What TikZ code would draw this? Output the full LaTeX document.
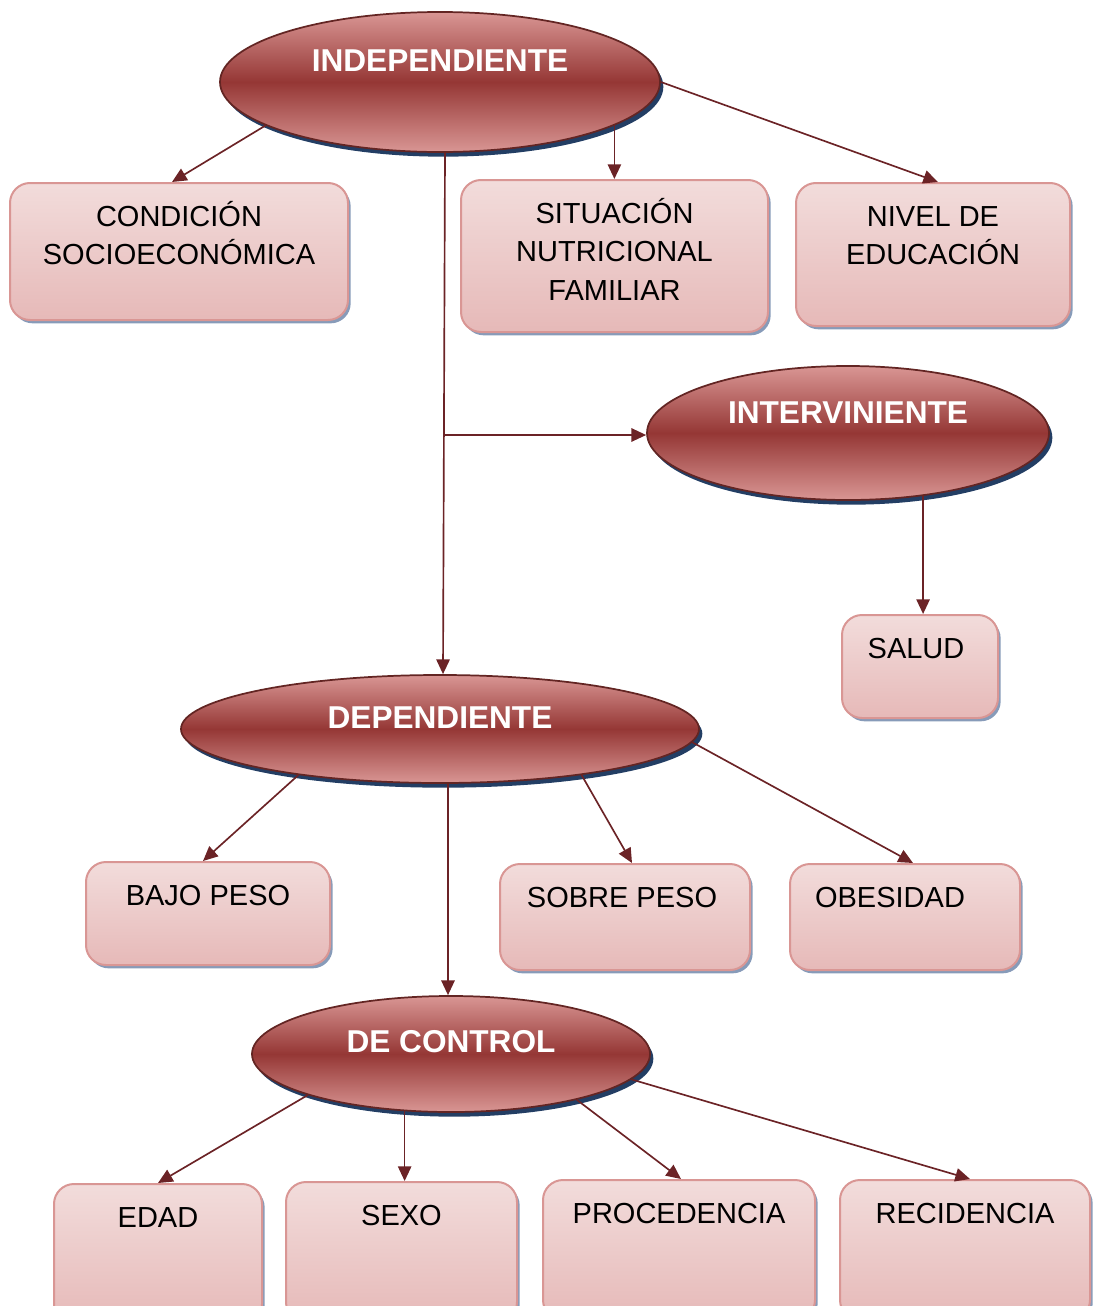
\documentclass[tikz,border=0pt]{standalone}
\usepackage{fontspec}
\setmainfont{Liberation Sans}
\usetikzlibrary{shapes.geometric,shadows,arrows.meta,calc}
\definecolor{elight}{RGB}{217,150,148}
\definecolor{edark}{RGB}{149,55,53}
\definecolor{eborder}{RGB}{99,37,35}
\definecolor{eshadow}{RGB}{35,62,100}
\definecolor{btop}{RGB}{242,220,219}
\definecolor{bbottom}{RGB}{230,185,184}
\definecolor{bborder}{RGB}{217,150,148}
\definecolor{bshadow}{RGB}{135,155,185}
\definecolor{arrowc}{RGB}{107,35,38}
\begin{document}
\begin{tikzpicture}[x=0.75pt,y=-0.75pt,
  ell/.style={ellipse, inner sep=0pt, draw=eborder, line width=1.3pt,
    top color=elight, bottom color=elight, middle color=edark,
    drop shadow={fill=eshadow, shadow xshift=2.5pt, shadow yshift=-3.5pt, opacity=1},
    text=white, font=\fontsize{23.7}{28}\selectfont\bfseries, text height=17pt},
  bx/.style={rectangle, rounded corners=15pt, draw=bborder, line width=1.5pt,
    top color=btop, bottom color=bbottom,
    drop shadow={fill=bshadow, shadow xshift=2pt, shadow yshift=-2.5pt, opacity=1}},
  btxt/.style={anchor=base, yshift=-33pt, align=center, inner sep=0pt,
    font=\fontsize{21.75}{28.9}\selectfont, text=black},
  arr/.style={draw=arrowc, line width=1.25pt, -{Triangle[length=11pt,width=10pt]}}
]
\useasboundingbox (0,0) rectangle (1093,1306);
\clip (0,0) rectangle (1093,1306);

% ellipses
\node[ell, minimum width=330pt, minimum height=105pt, text depth=33pt] (ind) at (440,82) {INDEPENDIENTE};
\node[ell, minimum width=301.5pt, minimum height=100.5pt, text depth=31.6pt] (int) at (848,433) {INTERVINIENTE};
\node[ell, minimum width=388.5pt, minimum height=81pt, text depth=17.8pt] (dep) at (440,729) {DEPENDIENTE};
\node[ell, minimum width=298.5pt, minimum height=87pt, text depth=19.6pt] (con) at (451,1054) {DE CONTROL};

% boxes
\node[bx, minimum width=253.5pt, minimum height=102.75pt,
  label={[btxt, yshift=-28.9pt]north:CONDICIÓN\\SOCIOECONÓMICA}] (cond) at (179,251.5) {};
\node[bx, minimum width=230.25pt, minimum height=114pt,
  label={[btxt, yshift=-57.8pt]north:SITUACIÓN\\NUTRICIONAL\\FAMILIAR}] (sit) at (614.5,256) {};
\node[bx, minimum width=205.5pt, minimum height=107.25pt,
  label={[btxt, yshift=-28.9pt]north:NIVEL DE\\EDUCACIÓN}] (niv) at (933,254.5) {};
\node[bx, minimum width=117pt, minimum height=77.25pt,
  label={[btxt, xshift=-3pt]north:SALUD}] (sal) at (920,666.5) {};
\node[bx, minimum width=183pt, minimum height=77.25pt,
  label={[btxt]north:BAJO PESO}] (baj) at (208,913.5) {};
\node[bx, minimum width=187.5pt, minimum height=79.5pt,
  label={[btxt, xshift=-2.25pt]north:SOBRE PESO}] (sob) at (625,917) {};
\node[bx, minimum width=172.5pt, minimum height=79.5pt,
  label={[btxt, xshift=-11.25pt]north:OBESIDAD}] (obe) at (905,917) {};
\node[bx, minimum width=156pt, minimum height=105pt,
  label={[btxt]north:EDAD}] (eda) at (158,1254) {};
\node[bx, minimum width=173.25pt, minimum height=105pt,
  label={[btxt]north:SEXO}] (sex) at (401.5,1252) {};
\node[bx, minimum width=204pt, minimum height=105pt,
  label={[btxt]north:PROCEDENCIA}] (pro) at (679,1250) {};
\node[bx, minimum width=187.5pt, minimum height=105pt,
  label={[btxt]north:RECIDENCIA}] (rec) at (965,1250) {};

% connectors
\draw[arr] (ind.194) -- ($(cond.north)+(-7,0)$);
\draw[arr] (ind.346.3) -- (ind.346.3 |- sit.north);
\draw[arr] (ind.east) -- ($(niv.north)+(5,0)$);
\coordinate (br) at (444,435);
\draw[arr] ($(ind.south)+(5,0)$) -- ($(dep.north)+(3,0)$);
\draw[arr] (br) -- (br -| int.west);
\draw[arr] (int.320) -- (int.320 |- sal.north);

\draw[arr] (dep.198) -- ($(baj.north)+(-5,0)$);
\draw[arr] (dep.342) -- ($(sob.north)+(7,0)$);
\draw[arr] (dep.357) -- ($(obe.north)+(8,0)$);
\draw[arr] ($(dep.south)+(8,0)$) -- ($(con.north)+(-3,0)$);

\draw[arr] (con.196) -- (eda.north);
\draw[arr] (con.231) -- (con.231 |- sex.north);
\draw[arr] (con.340) -- ($(pro.north)+(2,0)$);
\draw[arr] (con.352) -- ($(rec.north)+(5,0)$);
\end{tikzpicture}
\end{document}
